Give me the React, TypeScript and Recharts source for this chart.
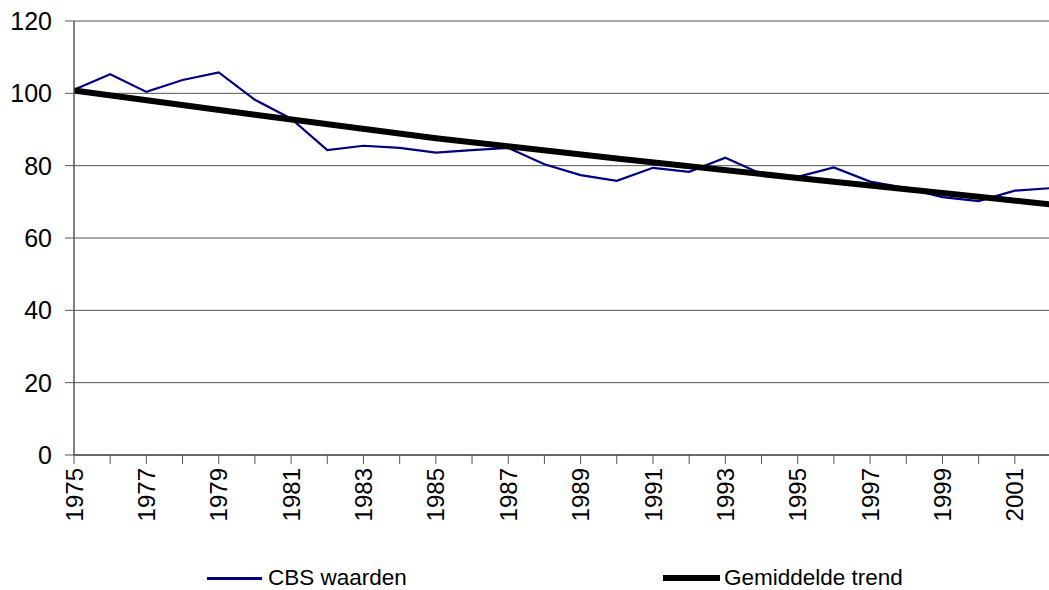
import React from 'react';
import { LineChart, Line, XAxis, YAxis, CartesianGrid, Legend } from 'recharts';

const years = [
  1975, 1976, 1977, 1978, 1979, 1980, 1981, 1982, 1983, 1984, 1985, 1986, 1987, 1988,
  1989, 1990, 1991, 1992, 1993, 1994, 1995, 1996, 1997, 1998, 1999, 2000, 2001, 2002,
];

const cbsValues = [
  101.0, 105.3, 100.4, 103.7, 105.8, 98.2, 93.0, 84.3, 85.5, 84.9, 83.6, 84.3, 84.9, 80.4,
  77.4, 75.8, 79.4, 78.3, 82.2, 77.7, 76.9, 79.5, 75.6, 73.8, 71.3, 70.2, 73.1, 73.8,
];

// trend at a few years; it bends slightly, so several points
const trendValues: (number | null)[] = [
  100.8, null, null, null, null, 94.1, null, null, null, null, 87.6, null, null, null,
  null, 82.0, null, null, null, null, 76.6, null, null, null, null, 71.4, null, 69.3,
];

const yTicks = [0, 20, 40, 60, 80, 100, 120];

const seriesNames = { cbs: 'CBS waarden', trend: 'Gemiddelde trend' };

const data = years.map((year, i) => ({
  year,
  cbs: cbsValues[i],
  trend: trendValues[i],
}));

const FONT = '"Liberation Sans", Arial, sans-serif';
const AXIS = '#555';

function YearTick(props: any) {
  const { x, y, payload } = props;
  if (payload.value % 2 === 0) return null;
  return (
    <text
      x={x}
      y={y + 2}
      transform={`rotate(-90 ${x} ${y + 2})`}
      textAnchor="end"
      dy="0.36em"
      fontSize={24}
      fontFamily={FONT}
      fill="#000"
    >
      {payload.value}
    </text>
  );
}

function LegendContent(props: any) {
  const { payload = [] } = props;
  const lefts = [207, 663];
  return (
    <div style={{ position: 'relative', height: 40, fontFamily: FONT, fontSize: 22.5 }}>
      {payload.map((entry: any, i: number) => (
        <div
          key={entry.value}
          style={{ position: 'absolute', left: lefts[i], top: 15, display: 'flex', alignItems: 'center' }}
        >
          <span
            style={{
              display: 'inline-block',
              width: i === 0 ? 55 : 57,
              height: i === 0 ? 3 : 6,
              background: entry.color,
              marginRight: i === 0 ? 6 : 4,
            }}
          />
          <span style={{ color: '#000', lineHeight: '26px' }}>{entry.value}</span>
        </div>
      ))}
    </div>
  );
}

export default function App() {
  return (
    <div style={{ position: 'absolute', left: 0, top: 0, width: 1049, height: 590, overflow: 'hidden', background: '#fff' }}>
      <LineChart width={1060} height={590} data={data} margin={{ top: 21, right: 9, left: 0, bottom: 0 }}>
        <CartesianGrid horizontal vertical={false} stroke={AXIS} strokeWidth={1} />
        <XAxis
          dataKey="year"
          type="number"
          domain={[1975, 2002]}
          ticks={years}
          interval={0}
          height={95}
          tickSize={9}
          tickMargin={2}
          tick={<YearTick />}
          stroke={AXIS}
          axisLine={{ stroke: AXIS, strokeWidth: 1.5 }}
          tickLine={{ stroke: AXIS }}
        />
        <YAxis
          domain={[0, 120]}
          ticks={yTicks}
          interval={0}
          width={74}
          tickSize={9}
          tickMargin={13}
          stroke={AXIS}
          axisLine={{ stroke: AXIS, strokeWidth: 1.5 }}
          tickLine={{ stroke: AXIS }}
          tick={{ fontSize: 25, fontFamily: FONT, fill: '#000' }}
        />
        <Legend
          verticalAlign="bottom"
          content={<LegendContent />}
          wrapperStyle={{ left: 0, width: 1049 }}
        />
        <Line
          dataKey="cbs"
          name={seriesNames.cbs}
          stroke="#000080"
          strokeWidth={2.2}
          dot={false}
          activeDot={false}
          isAnimationActive={false}
        />
        <Line
          dataKey="trend"
          name={seriesNames.trend}
          stroke="#000"
          strokeWidth={6}
          dot={false}
          activeDot={false}
          connectNulls
          isAnimationActive={false}
        />
      </LineChart>
    </div>
  );
}
